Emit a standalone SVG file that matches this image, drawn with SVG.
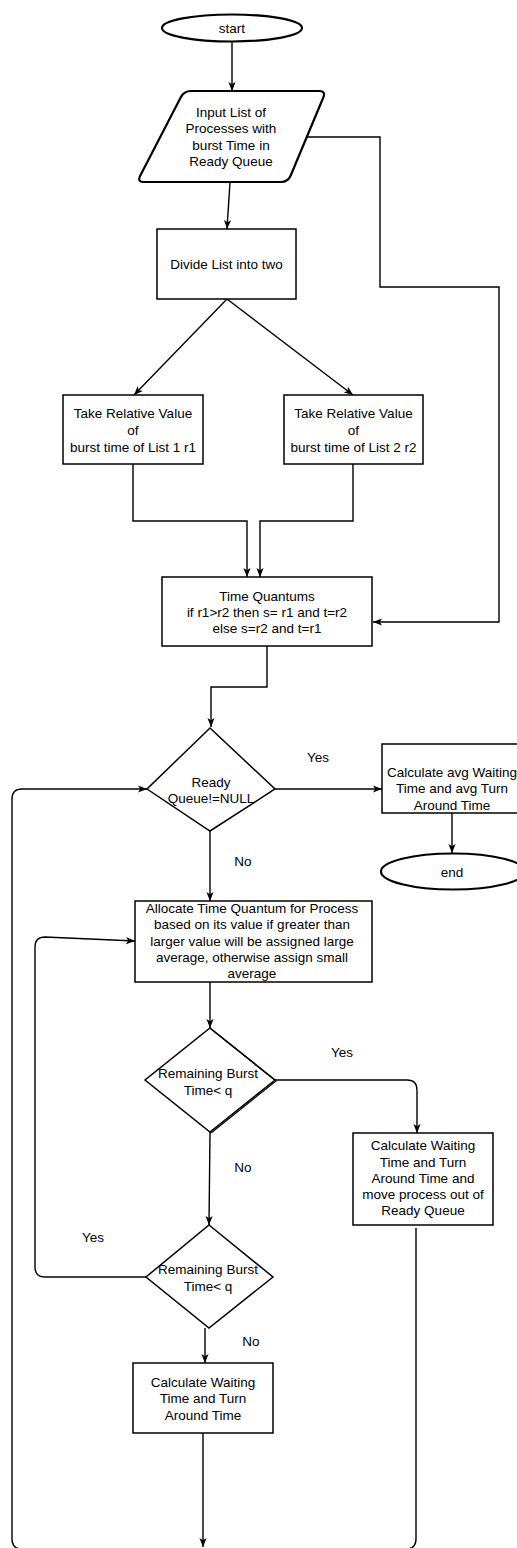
<svg xmlns="http://www.w3.org/2000/svg" width="517" height="1548" viewBox="0 0 517 1548">
  <style>
    .shape { fill: #ffffff; stroke: #000000; stroke-width: 1.5; }
    .term { fill: #ffffff; stroke: #000000; stroke-width: 2.2; }
    .edge { fill: none; stroke: #000000; stroke-width: 1.4; }
    text { font-family: "Liberation Sans", Arial, sans-serif; font-size: 13.5px; fill: #000000; text-anchor: middle; dominant-baseline: central; }
  </style>
  <defs>
    <marker id="arrow" viewBox="0 0 10 8" refX="10" refY="4" markerWidth="9" markerHeight="8" markerUnits="userSpaceOnUse" orient="auto">
      <path d="M0,0 L10,4 L0,8 L2.5,4 Z" fill="#000000"/>
    </marker>
  </defs>
  <rect width="517" height="1548" fill="#ffffff"/>

  <!-- connectors -->
  <g id="connectors">
    <path class="edge" d="M232,42 L232,91" marker-end="url(#arrow)"/>
    <path class="edge" d="M230,182 L227,229" marker-end="url(#arrow)"/>
    <path class="edge" d="M306,137 L380,137 L380,287 L499,287 L499,622 L373,622" marker-end="url(#arrow)"/>
    <path class="edge" d="M227,299 L134,395" marker-end="url(#arrow)"/>
    <path class="edge" d="M227,299 L353,395" marker-end="url(#arrow)"/>
    <path class="edge" d="M133,464 L133,521 L247,521 L247,577" marker-end="url(#arrow)"/>
    <path class="edge" d="M353,464 L353,521 L260,521 L260,577" marker-end="url(#arrow)"/>
    <path class="edge" d="M267,646 L267,687 L211,687 L211,727" marker-end="url(#arrow)"/>
    <path class="edge" d="M275,789 L382,789" marker-end="url(#arrow)"/>
    <path class="edge" d="M452,813 L452,853" marker-end="url(#arrow)"/>
    <path class="edge" d="M210,831 L210,901" marker-end="url(#arrow)"/>
    <path class="edge" d="M22,1549 Q12,1549 12,1539 L12,799 Q12,789 22,789 L147,789" marker-end="url(#arrow)"/>
    <path class="edge" d="M210,982 L210,1028" marker-end="url(#arrow)"/>
    <path class="edge" d="M275,1080 L407,1080 Q417,1080 417,1090 L417,1133" marker-end="url(#arrow)"/>
    <path class="edge" d="M416,1228 L416,1539 Q416,1549 406,1549"/>
    <path class="edge" d="M210,1132 L209,1225" marker-end="url(#arrow)"/>
    <path class="edge" d="M146,1277 L45,1277 Q35,1277 35,1267 L35,947 Q35,937 45,937 L135,941" marker-end="url(#arrow)"/>
    <path class="edge" d="M205,1328 L205,1363" marker-end="url(#arrow)"/>
    <path class="edge" d="M203,1433 L203,1547" marker-end="url(#arrow)"/>
  </g>

  <g id="start">
    <ellipse class="term" cx="232" cy="28" rx="70" ry="13.5"/>
    <text x="232" y="28">start</text>
  </g>

  <g id="input">
    <path class="term" d="M191,91 L319,91 Q326,91 323.3,97.5 L290.7,175.5 Q288,182 281,182 L144,182 Q137,182 140.2,175.8 L180.8,97.2 Q184,91 191,91 Z"/>
    <text x="231" y="112">Input List of</text>
    <text x="231" y="128.5">Processes with</text>
    <text x="231" y="145">burst Time in</text>
    <text x="231" y="161.5">Ready Queue</text>
  </g>

  <g id="divide">
    <rect class="shape" x="157" y="229" width="139" height="70"/>
    <text x="226.5" y="264">Divide List into two</text>
  </g>

  <g id="relative1">
    <rect class="shape" x="63" y="395" width="140" height="69"/>
    <text x="133" y="413">Take Relative Value</text>
    <text x="133" y="430">of</text>
    <text x="133" y="447">burst time of List 1 r1</text>
  </g>

  <g id="relative2">
    <rect class="shape" x="284" y="395" width="139" height="69"/>
    <text x="353.5" y="413">Take Relative Value</text>
    <text x="353.5" y="430">of</text>
    <text x="353.5" y="447">burst time of List 2 r2</text>
  </g>

  <g id="quantums">
    <rect class="shape" x="162" y="577" width="210" height="69"/>
    <text x="267" y="596">Time Quantums</text>
    <text x="267" y="612">if r1&gt;r2 then s= r1 and t=r2</text>
    <text x="267" y="628">else s=r2 and t=r1</text>
  </g>

  <g id="readyCheck">
    <polygon class="shape" points="210,728 275,789 210,831 147,789"/>
    <text x="211" y="782">Ready</text>
    <text x="211" y="798">Queue!=NULL</text>
  </g>

  <g id="avgCalc">
    <rect class="shape" x="382" y="744" width="140" height="69"/>
    <text x="452" y="772">Calculate avg Waiting</text>
    <text x="452" y="788">Time and avg Turn</text>
    <text x="452" y="805">Around Time</text>
  </g>

  <g id="end">
    <ellipse class="term" cx="453" cy="871.5" rx="72" ry="18"/>
    <text x="452" y="872">end</text>
  </g>

  <g id="allocate">
    <rect class="shape" x="135" y="901" width="237" height="81"/>
    <text x="252" y="908">Allocate Time Quantum for Process</text>
    <text x="252" y="924.5">based on its value if greater than</text>
    <text x="252" y="941">larger value will be assigned large</text>
    <text x="252" y="957">average, otherwise assign small</text>
    <text x="252" y="973">average</text>
  </g>

  <g id="burstCheck1">
    <polygon class="shape" points="210,1028 275,1080 210,1132 145,1080"/>
    <path d="M211,1029 L276,1081 L211,1133" fill="none" stroke="#000000" stroke-width="1.2"/>
    <text x="208" y="1073">Remaining Burst</text>
    <text x="208" y="1090">Time&lt; q</text>
  </g>

  <g id="moveOut">
    <rect class="shape" x="353" y="1133" width="140" height="92"/>
    <text x="423" y="1145">Calculate Waiting</text>
    <text x="423" y="1162">Time and Turn</text>
    <text x="423" y="1178">Around Time and</text>
    <text x="423" y="1194">move process out of</text>
    <text x="423" y="1210">Ready Queue</text>
  </g>

  <g id="burstCheck2">
    <polygon class="shape" points="209,1225 273,1277 209,1328 146,1277"/>
    <text x="208" y="1269">Remaining Burst</text>
    <text x="208" y="1286">Time&lt; q</text>
  </g>

  <g id="waitCalc">
    <rect class="shape" x="133" y="1363" width="140" height="70"/>
    <text x="203" y="1382">Calculate Waiting</text>
    <text x="203" y="1398">Time and Turn</text>
    <text x="203" y="1415">Around Time</text>
  </g>

  <g id="labels">
    <text x="318" y="757">Yes</text>
    <text x="243" y="861">No</text>
    <text x="342" y="1052">Yes</text>
    <text x="243" y="1167">No</text>
    <text x="93" y="1237">Yes</text>
    <text x="251" y="1341">No</text>
  </g>
</svg>
